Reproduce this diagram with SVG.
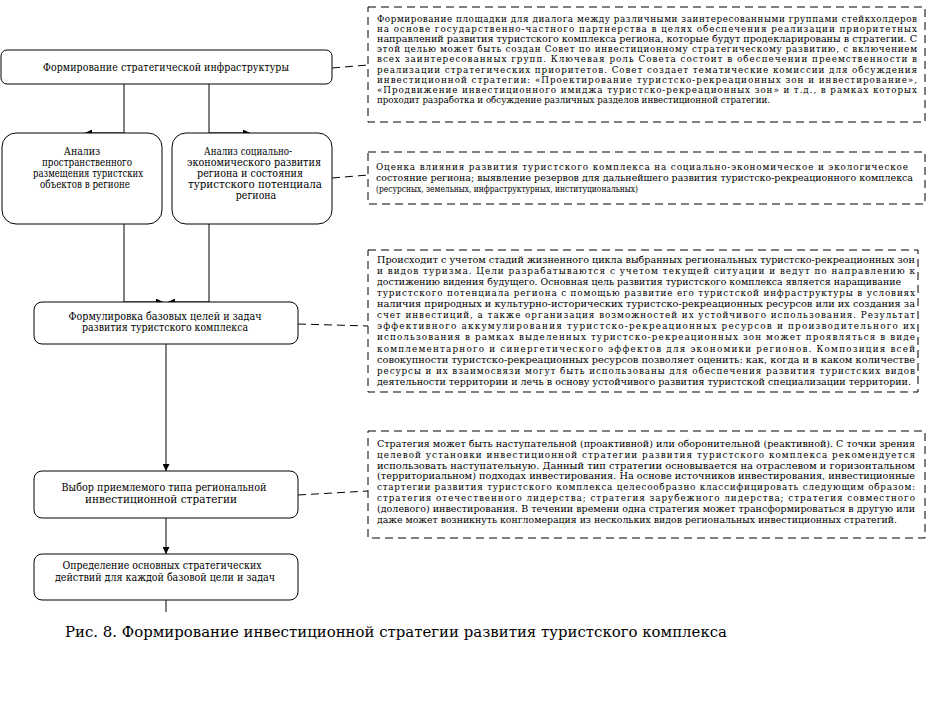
<svg xmlns="http://www.w3.org/2000/svg" width="928" height="703" viewBox="0 0 928 703">
<style>
.bg{fill:#fff}
.node{fill:#fff;stroke:#000;stroke-width:1}
.note{fill:none;stroke:#000;stroke-width:1;stroke-dasharray:8 5}
.t{font-family:'DejaVu Serif Condensed','DejaVu Serif','Liberation Serif',serif;font-stretch:condensed;font-size:10.5px;fill:#000;text-anchor:middle}
.n{font-family:'DejaVu Serif Condensed','DejaVu Serif','Liberation Serif',serif;font-stretch:condensed;font-size:9.8px;fill:#000}
.cap{font-family:'DejaVu Serif','Liberation Serif',serif;font-size:15px;fill:#000}
.c{fill:none;stroke:#000;stroke-width:1}
.d{fill:none;stroke:#000;stroke-width:1;stroke-dasharray:8 5}
</style>
<defs>
<marker id="ah" markerUnits="userSpaceOnUse" markerWidth="8" markerHeight="7" refX="7" refY="3.5" orient="auto">
<path d="M0,0 L7,3.5 L0,7 z" fill="#000"/>
</marker>
</defs>
<rect class="bg" x="0" y="0" width="928" height="703"/>

<g id="connectors">
<path class="c" d="M124,84 V133 H85" marker-end="url(#ah)"/>
<path class="c" d="M209,84 V133 H250" marker-end="url(#ah)"/>
<path class="c" d="M124,224 V302 H163" marker-end="url(#ah)"/>
<path class="c" d="M209,224 V302 H168" marker-end="url(#ah)"/>
<path class="c" d="M166,344 V471" marker-end="url(#ah)"/>
<path class="c" d="M166,518 V554" marker-end="url(#ah)"/>
<path class="c" d="M166,600 V612"/>
<path class="d" d="M332,68 L368,65"/>
<path class="d" d="M332,178 L368,175"/>
<path class="d" d="M298,324 L368,326"/>
<path class="d" d="M298,495 L368,491"/>
</g>

<g id="node-infra">
<rect class="node" x="1" y="50" width="331" height="34" rx="6"/>
<text class="t" x="166" y="71" textLength="246" lengthAdjust="spacing">Формирование стратегической инфраструктуры</text>
</g>

<g id="node-spatial">
<rect class="node" x="2" y="133" width="160" height="91" rx="14"/>
<text class="t" x="82" y="155">Анализ</text>
<text class="t" x="87" y="166" textLength="90" lengthAdjust="spacingAndGlyphs">пространственного</text>
<text class="t" x="88" y="177" textLength="110" lengthAdjust="spacingAndGlyphs">размещения туристских</text>
<text class="t" x="85" y="188" textLength="90" lengthAdjust="spacingAndGlyphs">объектов в регионе</text>
</g>

<g id="node-socio">
<rect class="node" x="172" y="133" width="160" height="91" rx="14"/>
<text class="t" x="248" y="155" textLength="88" lengthAdjust="spacingAndGlyphs">Анализ социально-</text>
<text class="t" x="254" y="166" textLength="134" lengthAdjust="spacingAndGlyphs">экономического развития</text>
<text class="t" x="250" y="177" textLength="106" lengthAdjust="spacingAndGlyphs">региона и состояния</text>
<text class="t" x="255" y="188" textLength="134" lengthAdjust="spacingAndGlyphs">туристского потенциала</text>
<text class="t" x="256" y="199">региона</text>
</g>

<g id="node-goals">
<rect class="node" x="34" y="302" width="264" height="42" rx="8"/>
<text class="t" x="165" y="320" textLength="193" lengthAdjust="spacingAndGlyphs">Формулировка базовых целей и задач</text>
<text class="t" x="165" y="331" textLength="166" lengthAdjust="spacingAndGlyphs">развития туристского комплекса</text>
</g>

<g id="node-type">
<rect class="node" x="34" y="471" width="264" height="47" rx="8"/>
<text class="t" x="164" y="491" textLength="205" lengthAdjust="spacingAndGlyphs">Выбор приемлемого типа региональной</text>
<text class="t" x="161" y="503" textLength="152" lengthAdjust="spacingAndGlyphs">инвестиционной стратегии</text>
</g>

<g id="node-actions">
<rect class="node" x="34" y="554" width="264" height="46" rx="8"/>
<text class="t" x="162" y="569" textLength="199" lengthAdjust="spacingAndGlyphs">Определение основных стратегических</text>
<text class="t" x="165" y="581" textLength="220" lengthAdjust="spacingAndGlyphs">действий для каждой базовой цели и задач</text>
</g>

<g id="note-1">
<rect class="note" x="368" y="7" width="557" height="115"/>
<text class="n" x="377" y="22" textLength="540" lengthAdjust="spacing">Формирование площадки для диалога между различными заинтересованными группами стейкхолдеров</text>
<text class="n" x="377" y="32.1" textLength="540" lengthAdjust="spacing">на основе государственно-частного партнерства в целях обеспечения реализации приоритетных</text>
<text class="n" x="377" y="42.2" textLength="540" lengthAdjust="spacingAndGlyphs">направлений развития туристского комплекса региона, которые будут продекларированы в стратегии. С</text>
<text class="n" x="377" y="52.3" textLength="540" lengthAdjust="spacing">этой целью может быть создан Совет по инвестиционному стратегическому развитию, с включением</text>
<text class="n" x="377" y="62.4" textLength="540" lengthAdjust="spacing">всех заинтересованных групп. Ключевая роль Совета состоит в обеспечении преемственности в</text>
<text class="n" x="377" y="72.5" textLength="540" lengthAdjust="spacing">реализации стратегических приоритетов. Совет создает тематические комиссии для обсуждения</text>
<text class="n" x="377" y="82.6" textLength="540" lengthAdjust="spacing">инвестиционной стратегии: «Проектирование туристско-рекреационных зон и инвестирование»,</text>
<text class="n" x="377" y="92.7" textLength="540" lengthAdjust="spacing">«Продвижение инвестиционного имиджа туристско-рекреационных зон» и т.д., в рамках которых</text>
<text class="n" x="377" y="102.8" textLength="393" lengthAdjust="spacingAndGlyphs">проходит разработка и обсуждение различных разделов инвестиционной стратегии.</text>
</g>

<g id="note-2">
<rect class="note" x="368" y="152" width="557" height="52"/>
<text class="n" x="376" y="170" textLength="532" lengthAdjust="spacing">Оценка влияния  развития туристского комплекса на социально-экономическое и экологическое</text>
<text class="n" x="376" y="181" textLength="537" lengthAdjust="spacingAndGlyphs">состояние региона; выявление резервов для дальнейшего развития туристско-рекреационного комплекса</text>
<text class="n" x="376" y="192" textLength="262" lengthAdjust="spacingAndGlyphs">(ресурсных, земельных, инфраструктурных, институциональных)</text>
</g>

<g id="note-3">
<rect class="note" x="368" y="250" width="550" height="142"/>
<text class="n" x="377" y="263" textLength="538" lengthAdjust="spacingAndGlyphs">Происходит с учетом стадий жизненного цикла выбранных региональных туристско-рекреационных зон</text>
<text class="n" x="377" y="274.1" textLength="538" lengthAdjust="spacing">и видов туризма. Цели разрабатываются с учетом текущей ситуации и ведут по направлению к</text>
<text class="n" x="377" y="285.1" textLength="524" lengthAdjust="spacingAndGlyphs">достижению видения будущего. Основная цель развития туристского комплекса является наращивание</text>
<text class="n" x="377" y="296.2" textLength="538" lengthAdjust="spacing">туристского потенциала региона с помощью развитие его туристской инфраструктуры в условиях</text>
<text class="n" x="377" y="307.2" textLength="538" lengthAdjust="spacingAndGlyphs">наличия природных и культурно-исторических туристско-рекреационных ресурсов или их создания за</text>
<text class="n" x="377" y="318.3" textLength="538" lengthAdjust="spacing">счет инвестиций, а также организация возможностей их устойчивого использования. Результат</text>
<text class="n" x="377" y="329.4" textLength="538" lengthAdjust="spacing">эффективного аккумулирования туристско-рекреационных ресурсов и производительного их</text>
<text class="n" x="377" y="340.4" textLength="538" lengthAdjust="spacing">использования в рамках выделенных туристско-рекреационных зон может проявляться в виде</text>
<text class="n" x="377" y="351.5" textLength="538" lengthAdjust="spacing">комплементарного и синергетического эффектов для экономики регионов. Композиция всей</text>
<text class="n" x="377" y="362.5" textLength="538" lengthAdjust="spacingAndGlyphs">совокупности туристско-рекреационных ресурсов позволяет оценить: как, когда и в каком количестве</text>
<text class="n" x="377" y="373.6" textLength="538" lengthAdjust="spacing">ресурсы и их взаимосвязи могут быть использованы для обеспечения развития туристских видов</text>
<text class="n" x="377" y="384.7" textLength="534" lengthAdjust="spacingAndGlyphs">деятельности территории и лечь в основу устойчивого развития туристской специализации территории.</text>
</g>

<g id="note-4">
<rect class="note" x="368" y="431" width="557" height="107"/>
<text class="n" x="377" y="447" textLength="538" lengthAdjust="spacingAndGlyphs">Стратегия может быть наступательной (проактивной) или оборонительной (реактивной). С точки зрения</text>
<text class="n" x="377" y="457.8" textLength="538" lengthAdjust="spacing">целевой установки инвестиционной стратегии развития туристского комплекса рекомендуется</text>
<text class="n" x="377" y="468.6" textLength="538" lengthAdjust="spacingAndGlyphs">использовать наступательную. Данный тип стратегии основывается на отраслевом и горизонтальном</text>
<text class="n" x="377" y="479.4" textLength="538" lengthAdjust="spacingAndGlyphs">(территориальном) подходах инвестирования. На основе источников инвестирования, инвестиционные</text>
<text class="n" x="377" y="490.2" textLength="538" lengthAdjust="spacing">стартегии развития туристского комплекса целесообразно классифицировать следующим образом:</text>
<text class="n" x="377" y="501" textLength="538" lengthAdjust="spacing">стратегия отечественного лидерства; стратегия зарубежного лидерства; стратегия совместного</text>
<text class="n" x="377" y="511.8" textLength="538" lengthAdjust="spacingAndGlyphs">(долевого) инвестирования. В течении времени одна стратегия может трансформироваться в другую или</text>
<text class="n" x="377" y="522.6" textLength="520" lengthAdjust="spacingAndGlyphs">даже может возникнуть конгломерация из нескольких видов региональных инвестиционных стратегий.</text>
</g>

<text class="cap" x="65" y="637" textLength="662" lengthAdjust="spacingAndGlyphs">Рис. 8. Формирование инвестиционной стратегии развития туристского комплекса</text>
</svg>
